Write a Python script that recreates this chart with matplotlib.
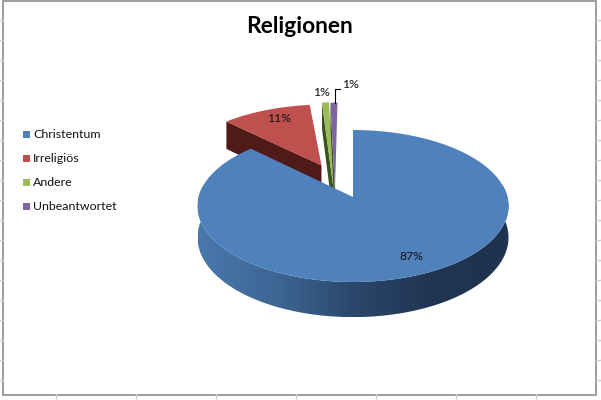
import numpy as np
import matplotlib

matplotlib.use("Agg")
import matplotlib.pyplot as plt
from matplotlib.colors import LinearSegmentedColormap
from matplotlib.patches import Polygon, Rectangle

# Chart data
categories = ["Christentum", "Irreligiös", "Andere", "Unbeantwortet"]
values = [87.3, 10.9, 0.9, 0.9]
value_labels = ["87%", "11%", "1%", "1%"]

# Styles and layout
top_colors = ["#4f81bd", "#c0504d", "#9bbb59", "#8064a2"]
side_colors = ["#2f5378", "#4f1a18", "#3b5320", "#3b5320"]
offsets = [(0.0, 0.0), (-0.215, 0.445), (-0.129, 0.13), (-0.118, 0.10)]
scales = [(1.0, 1.0), (1.0, 1.0), (0.95, 1.36), (0.95, 1.38)]
label_pos = [(411, 257), (279, 119), (321, 92), (350, 85)]

CX, CY = 353, 197
F, G, K = 154.4, 74.9, 0.1184
DEPTH = 31


def project(u, v, drop=0.0):
    # perspective view of the pie disc, back of the disc is smaller
    w = 1 + K * v
    return CX + F * u / w, CY - G * v / w + drop / w


def slice_points(start, end, off, scale, n=60):
    t = np.linspace(start, end, n)
    u = off[0] + scale[0] * np.sin(t)
    v = off[1] + scale[1] * np.cos(t)
    return u, v


fig = plt.figure(figsize=(6.01, 4.0), dpi=100)
ax = fig.add_axes([0, 0, 1, 1])
ax.axis("off")

# Spreadsheet cells behind the chart
for y in range(20, 400, 20):
    ax.plot([0, 3], [y, y], color="#d0d0d0", lw=1)
    ax.plot([596, 601], [y, y], color="#d0d0d0", lw=1)
for x in range(56, 600, 80):
    ax.plot([x, x], [394, 400], color="#d0d0d0", lw=1)
ax.add_patch(Rectangle((3, 0.5), 593, 394, fc="white", ec="#8c8c8c", lw=1.2))

# Slice angles, clockwise from 12 o'clock
ends = np.cumsum(values) / np.sum(values) * 2 * np.pi
starts = np.concatenate([[0], ends[:-1]])

# Exploded slices first, the big one covers their inner ends
for i in [1, 2, 3]:
    u, v = slice_points(starts[i], ends[i], offsets[i], scales[i])
    ou, ov = offsets[i]
    # cut face on the left side of the slice
    a = project(u[0], v[0])
    b = project(ou, ov)
    c = project(ou, ov, DEPTH)
    d = project(u[0], v[0], DEPTH)
    ax.add_patch(Polygon([a, b, c, d], fc=side_colors[i], ec="none"))
    x, y = project(np.append(u, ou), np.append(v, ov))
    ax.fill(x, y, color=top_colors[i], lw=0)

# Outer wall of the big slice with its dark gradient
wall = np.linspace(np.pi * 0.45, np.pi * 1.55, 240)
wx, wy = project(np.sin(wall), np.cos(wall))
bx, by = project(np.sin(wall), np.cos(wall), DEPTH)
outline = Polygon(np.column_stack([np.append(wx, bx[::-1]), np.append(wy, by[::-1])]),
                  transform=ax.transData, fc="none", ec="none")
ax.add_patch(outline)
cmap = LinearSegmentedColormap.from_list(
    "wall", ["#4a78ac", "#3d6694", "#2b476b", "#203552", "#1f3350"])
shade = ax.imshow(np.linspace(0, 1, 256)[None, :], cmap=cmap, aspect="auto",
                  extent=[wx.min(), wx.max(), by.max(), wy.min()], zorder=1.5)
shade.set_clip_path(outline)

u, v = slice_points(starts[0], ends[0], offsets[0], scales[0], n=300)
x, y = project(np.append(u, 0), np.append(v, 0))
ax.fill(x, y, color=top_colors[0], lw=0, zorder=2)

# Data labels
for text, (lx, ly) in zip(value_labels, label_pos):
    ax.text(lx, ly, text, ha="center", va="center", fontsize=8.8, family="Lato",
            color="#111111", zorder=3)

# Leader line of the last label
ax.plot([335, 335, 340], [103, 89, 89], color="black", lw=0.8, zorder=3)

ax.text(299, 26.5, "Religionen", ha="center", va="center", fontsize=16.4,
        fontweight="bold", family="Lato", color="black")

# Legend
for i, name in enumerate(categories):
    y = 134 + 24 * i
    ax.add_patch(Rectangle((23, y - 3.5), 7, 7, fc=top_colors[i], ec="none"))
    ax.text(33, y, name, ha="left", va="center", fontsize=8.9, family="Lato", color="#111111")

ax.set_xlim(0, 601)
ax.set_ylim(400, 0)
fig.savefig("out.png", dpi=100)
